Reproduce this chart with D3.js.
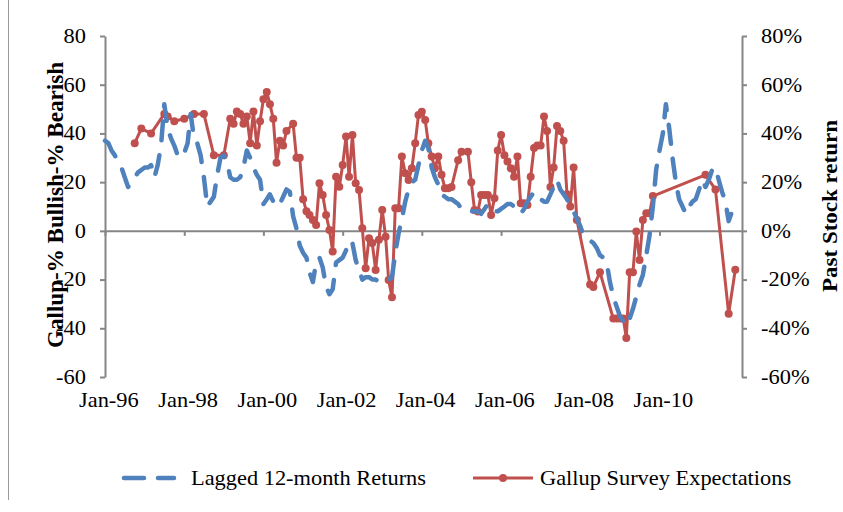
<!DOCTYPE html>
<html>
<head>
<meta charset="utf-8">
<script src="https://cdn.jsdelivr.net/npm/d3@7/dist/d3.min.js"></script>
<style>
  body { margin: 0; background: #fff; }
  svg text { font-family: "Liberation Serif", "Times New Roman", serif; fill: #000; }
</style>
</head>
<body>
<div id="chart"></div>
<script>
// Lagged 12-month returns, monthly from Jan-96 (in %)
var blueStart = "1996-01";
var blueValues = [
  37, 36, 33, 31, 28, 26, 22, 18, 20, 22, 24, 25,
  26, 26, 27, 22, 27, 35, 52, 42, 38, 35, 31, 30,
  32, 36, 48, 38, 36, 31, 22, 10, 12, 14, 23, 30,
  31, 28, 22, 21, 21, 22, 26, 33, 30, 26, 23, 21,
  11, 13, 15, 12, 10, 11, 14, 17, 16, 6, 1, -6,
  -9, -11, -17, -21, -13, -11, -15, -23, -26, -24, -13, -12,
  -11, -8, -4, -5, -12, -16, -20, -19, -19, -20, -20, -21,
  -21, -21, -20, -19, -9, -1, 5, 12, 17, 20, 21, 27,
  33, 37, 34, 26, 22, 19, 15, 14, 13, 13, 12, 11,
  9, 9, 8, 8, 8, 8, 7, 9, 11, 10, 8, 8,
  9, 10, 11, 11, 10, 9, 7, 9, 12, 14, 16, 15,
  13, 12, 12, 15, 18, 21, 17, 15, 13, 10, 8, 5,
  2, -2, -3, -4, -5, -7, -10, -11, -13, -21, -27, -31,
  -35, -37, -39, -36, -32, -27, -22, -18, -10, -2, 10, 25,
  33, 40, 52, 42, 30, 20, 13, 10, 7, 10, 12, 13,
  17, 21, 18, 21, 25, 26, 21, 16, 12, 4, 8
];

// Gallup survey: % bullish - % bearish
var redDates = [
  "1996-10", "1996-12", "1997-03", "1997-07", "1997-08", "1997-10",
  "1998-01", "1998-04", "1998-07", "1998-10",
  "1999-01", "1999-03", "1999-04", "1999-05", "1999-06", "1999-07", "1999-08", "1999-09", "1999-10", "1999-11", "1999-12",
  "2000-01", "2000-02", "2000-03", "2000-04", "2000-05", "2000-06", "2000-07", "2000-08", "2000-10", "2000-11", "2000-12",
  "2001-01", "2001-02", "2001-03", "2001-04", "2001-05", "2001-06", "2001-07", "2001-08", "2001-09", "2001-10", "2001-11", "2001-12",
  "2002-01", "2002-02", "2002-03", "2002-04", "2002-05", "2002-06", "2002-07", "2002-08", "2002-09", "2002-10", "2002-11", "2002-12",
  "2003-01", "2003-02", "2003-03", "2003-04", "2003-05", "2003-06", "2003-07", "2003-08", "2003-09", "2003-10", "2003-11", "2003-12",
  "2004-01", "2004-02", "2004-03", "2004-04", "2004-05", "2004-06", "2004-07", "2004-08", "2004-09", "2004-10", "2004-12",
  "2005-01", "2005-03", "2005-04", "2005-05", "2005-06", "2005-07", "2005-08", "2005-09", "2005-10", "2005-11", "2005-12",
  "2006-01", "2006-02", "2006-03", "2006-04", "2006-05", "2006-06", "2006-07", "2006-08", "2006-09", "2006-10", "2006-11", "2006-12",
  "2007-01", "2007-02", "2007-03", "2007-04", "2007-05", "2007-06", "2007-07", "2007-08", "2007-09", "2007-10", "2007-11", "2007-12",
  "2008-04", "2008-05", "2008-07", "2008-11", "2008-12",
  "2009-01", "2009-02", "2009-03", "2009-04", "2009-05", "2009-06", "2009-07", "2009-08", "2009-09", "2009-10", "2009-11",
  "2011-03", "2011-06", "2011-10", "2011-12"
];
var redValues = [
  36, 42, 40, 48, 47, 45,
  46, 48, 48, 31,
  31, 46, 44, 49, 48, 44, 47, 36, 49, 35, 45,
  54, 57, 52, 46, 28, 37, 35, 41, 44, 30, 30,
  13, 8, 6.5, 4.5, 2.4, 19.5, 14.7, 6.5, 0.4, -8.5, 22.2, 18.1,
  27, 38.7, 22.2, 39.4, 19.5, 16.8, 1.1, -15.4, -3, -5, -16.1, -3.7,
  8.6, -2.4, -20.2, -27.3, 9.3, 9.3, 30.5, 23.6, 20.9, 25.7, 36, 47.6,
  48.9, 45.5, 36, 30.5, 25.7, 30.5, 23, 17.5, 17.5, 18, 29,
  32.5, 32.5, 20, 8.6, 7.9, 14.7, 14.7, 14.7, 6.5, 13.4, 33,
  39.4, 31, 28.5, 25.7, 22.2, 30.5, 11.3, 11.3, 10.6, 22.2, 34, 35,
  35, 47, 41, 18, 26, 43, 41, 37, 15, 10, 26, 4.5,
  -22, -23, -17, -36, -36,
  -36, -36, -44, -17, -17, -0.3, -12, 4.5, 7.2, 7.2, 14.3,
  23, 17, -34, -16
];

var leftTicks = [-60, -40, -20, 0, 20, 40, 60, 80];
var rightTicks = [-60, -40, -20, 0, 20, 40, 60, 80];
var tickYears = ["1996-01", "1998-01", "2000-01", "2002-01", "2004-01", "2006-01", "2008-01", "2010-01"];
var xStart = "1996-01", xEnd = "2012-02";

var seriesNames = ["Lagged 12-month Returns", "Gallup Survey Expectations"];
var leftTitle = "Gallup-% Bullish-% Bearish";
var rightTitle = "Past Stock return";

var width = 843, height = 512;
var margin = {top: 36, right: 101, bottom: 135, left: 105};
var w = width - margin.left - margin.right,
    h = height - margin.top - margin.bottom;

var blue = "#4F81BD", red = "#C0504D", axisGray = "#868686";
var serif = "'Liberation Serif', 'Times New Roman', serif";
var parse = d3.timeParse("%Y-%m");

var blueData = blueValues.map(function(v, i) {
  return {date: d3.timeMonth.offset(parse(blueStart), i), value: v};
});
var redData = redValues.map(function(v, i) {
  return {date: parse(redDates[i]), value: v};
});

var svg = d3.select("#chart").append("svg")
    .attr("width", width)
    .attr("height", height)
    .style("display", "block")
    .style("background", "#fff");

// page frame line on the left
svg.append("line")
    .attr("x1", 8.5).attr("x2", 8.5)
    .attr("y1", 0).attr("y2", 500)
    .style("stroke", "#9a9a9a")
    .style("stroke-width", 1);

var g = svg.append("g")
    .attr("transform", "translate(" + margin.left + "," + margin.top + ")");

var x = d3.scaleTime()
    .domain([parse(xStart), parse(xEnd)])
    .range([0, w]);

var y = d3.scaleLinear()
    .domain([-60, 80])
    .range([h, 0]);

var yRight = d3.scaleLinear()
    .domain([-60, 80])
    .range([h, 0]);

function styleAxis(sel) {
  sel.selectAll(".domain, line")
      .style("stroke", axisGray)
      .style("stroke-width", 2);
  sel.selectAll("text")
      .style("font-size", "20px")
      .style("font-family", serif)
      .attr("fill", "#000")
      .attr("transform", "scale(1.12,1)");
}

// Left axis
g.append("g")
    .call(d3.axisLeft(y).tickValues(leftTicks).tickSize(5).tickPadding(12).tickSizeOuter(0)
      .tickFormat(function(d) { return String(d); }))
    .call(styleAxis);

// Right axis
g.append("g")
    .attr("transform", "translate(" + w + ",0)")
    .call(d3.axisRight(yRight).tickValues(rightTicks).tickSize(5).tickPadding(12).tickSizeOuter(0)
      .tickFormat(function(d) { return d + "%"; }))
    .call(styleAxis);

// Horizontal axis on zero line
var tickDates = tickYears.map(parse);
g.append("g")
    .attr("transform", "translate(0," + y(0) + ")")
    .call(d3.axisBottom(x).tickValues(tickDates).tickSize(5).tickSizeOuter(0).tickFormat(""))
    .call(styleAxis);

// Date labels at the bottom of the plot
var xLabels = g.append("g")
    .attr("transform", "translate(0," + h + ")")
    .call(d3.axisBottom(x).tickValues(tickDates).tickSize(0).tickPadding(16)
      .tickFormat(d3.timeFormat("%b-%y")))
    .call(styleAxis);
xLabels.select(".domain").remove();
xLabels.selectAll("text").attr("x", 3);

// Axis titles
svg.append("text")
    .attr("transform", "translate(63," + 205 + ") scale(1.12,1) rotate(-90)")
    .attr("text-anchor", "middle")
    .attr("textLength", 286)
    .attr("lengthAdjust", "spacingAndGlyphs")
    .style("font-family", serif)
    .style("font-size", "20px")
    .style("font-weight", "bold")
    .text(leftTitle);

svg.append("text")
    .attr("transform", "translate(837," + 206 + ") scale(1.12,1) rotate(-90)")
    .attr("text-anchor", "middle")
    .attr("textLength", 172)
    .attr("lengthAdjust", "spacingAndGlyphs")
    .style("font-family", serif)
    .style("font-size", "19px")
    .style("font-weight", "bold")
    .text(rightTitle);

// Gallup series
var redLine = d3.line()
    .x(function(d) { return x(d.date); })
    .y(function(d) { return y(d.value); });

g.append("path")
    .datum(redData)
    .attr("d", redLine)
    .style("fill", "none")
    .style("stroke", red)
    .style("stroke-width", 3)
    .style("stroke-linejoin", "round");

g.append("g").selectAll("circle")
    .data(redData)
  .enter().append("circle")
    .attr("cx", function(d) { return x(d.date); })
    .attr("cy", function(d) { return y(d.value); })
    .attr("r", 4)
    .style("fill", red);

// Lagged returns series (secondary axis)
var blueLine = d3.line()
    .x(function(d) { return x(d.date); })
    .y(function(d) { return yRight(d.value); });

g.append("path")
    .datum(blueData)
    .attr("d", blueLine)
    .style("fill", "none")
    .style("stroke", blue)
    .style("stroke-width", 4.5)
    .style("stroke-dasharray", "19,15")
    .style("stroke-linecap", "round")
    .style("stroke-linejoin", "round");

// Legend
var legend = svg.append("g");

legend.append("line")
    .attr("x1", 124).attr("x2", 174)
    .attr("y1", 478).attr("y2", 478)
    .style("stroke", blue)
    .style("stroke-width", 4.5)
    .style("stroke-dasharray", "20,14")
    .style("stroke-linecap", "round");

legend.append("text")
    .attr("transform", "translate(191,485) scale(1.12,1)")
    .style("font-family", serif)
    .style("font-size", "20px")
    .text(seriesNames[0]);

legend.append("line")
    .attr("x1", 473).attr("x2", 533)
    .attr("y1", 478).attr("y2", 478)
    .style("stroke", red)
    .style("stroke-width", 3);

legend.append("circle")
    .attr("cx", 503).attr("cy", 478)
    .attr("r", 4)
    .style("fill", red);

legend.append("text")
    .attr("transform", "translate(540,485) scale(1.12,1)")
    .style("font-family", serif)
    .style("font-size", "20px")
    .text(seriesNames[1]);
</script>
</body>
</html>
